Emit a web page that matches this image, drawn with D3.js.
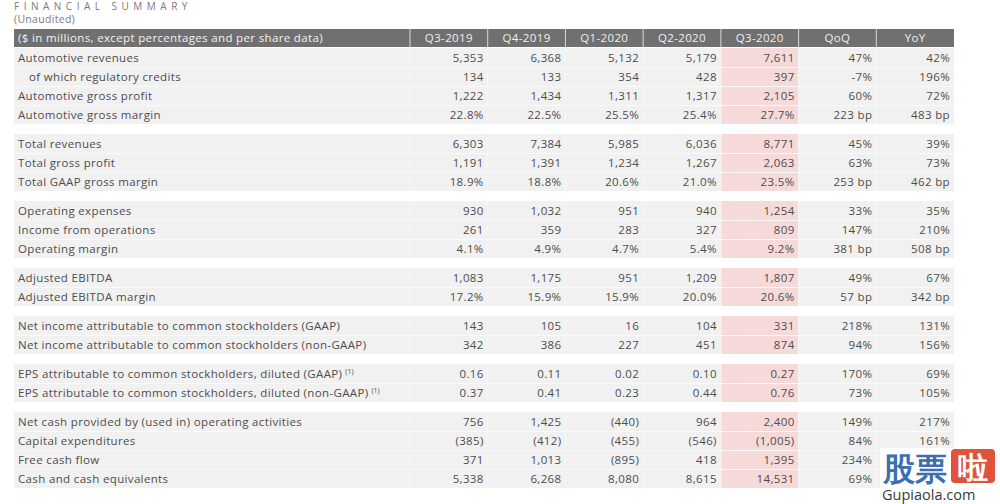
<!DOCTYPE html>
<html>
<head>
<meta charset="utf-8">
<script src="https://cdn.jsdelivr.net/npm/d3@7"></script>
<style>
  body { margin: 0; background: #fff; }
  svg text { font-family: "Open Sans", "DejaVu Sans", sans-serif; }
</style>
</head>
<body>
<div id="chart"></div>
<script>
// row labels, grouped like the report
const rowLabels = [
  "Automotive revenues", "of which regulatory credits", "Automotive gross profit", "Automotive gross margin",
  "Total revenues", "Total gross profit", "Total GAAP gross margin",
  "Operating expenses", "Income from operations", "Operating margin",
  "Adjusted EBITDA", "Adjusted EBITDA margin",
  "Net income attributable to common stockholders (GAAP)", "Net income attributable to common stockholders (non-GAAP)",
  "EPS attributable to common stockholders, diluted (GAAP)", "EPS attributable to common stockholders, diluted (non-GAAP)",
  "Net cash provided by (used in) operating activities", "Capital expenditures", "Free cash flow", "Cash and cash equivalents"
];
const rowGroups = [0,0,0,0, 1,1,1, 2,2,2, 3,3, 4,4, 5,5, 6,6,6,6];
const indented = [1];
const footnoted = [14, 15];

const columns = ["Q3-2019", "Q4-2019", "Q1-2020", "Q2-2020", "Q3-2020", "QoQ", "YoY"];
const highlightColumn = "Q3-2020";

const q3_2019 = ["5,353","134","1,222","22.8%","6,303","1,191","18.9%","930","261","4.1%","1,083","17.2%","143","342","0.16","0.37","756","(385)","371","5,338"];
const q4_2019 = ["6,368","133","1,434","22.5%","7,384","1,391","18.8%","1,032","359","4.9%","1,175","15.9%","105","386","0.11","0.41","1,425","(412)","1,013","6,268"];
const q1_2020 = ["5,132","354","1,311","25.5%","5,985","1,234","20.6%","951","283","4.7%","951","15.9%","16","227","0.02","0.23","(440)","(455)","(895)","8,080"];
const q2_2020 = ["5,179","428","1,317","25.4%","6,036","1,267","21.0%","940","327","5.4%","1,209","20.0%","104","451","0.10","0.44","964","(546)","418","8,615"];
const q3_2020 = ["7,611","397","2,105","27.7%","8,771","2,063","23.5%","1,254","809","9.2%","1,807","20.6%","331","874","0.27","0.76","2,400","(1,005)","1,395","14,531"];
const qoq     = ["47%","-7%","60%","223 bp","45%","63%","253 bp","33%","147%","381 bp","49%","57 bp","218%","94%","170%","73%","149%","84%","234%","69%"];
const yoy     = ["42%","196%","72%","483 bp","39%","73%","462 bp","35%","210%","508 bp","67%","342 bp","131%","156%","69%","105%","217%","161%","276%","172%"];
const columnValues = [q3_2019, q4_2019, q1_2020, q2_2020, q3_2020, qoq, yoy];

const width = 1000, height = 504;
const left = 14, labelRight = 410, right = 954;
const headerTop = 29, headerH = 18;
const rowH = 19, groupGap = 10;
const bodyTop = headerTop + headerH + 1;

const svg = d3.select("#chart").append("svg")
  .attr("width", width)
  .attr("height", height);

const x = d3.scaleBand().domain(columns).range([labelRight, right]).padding(0);
const yRow = d3.scaleLinear().domain([0, 1]).range([bodyTop, bodyTop + rowH]);
const y = i => yRow(i) + rowGroups[i] * groupGap;

const textColor = "#4d4d4d";
const fs = 11.5, ls = 0.35;

// title
svg.append("text")
  .attr("x", 14).attr("y", 10)
  .attr("font-size", 10).attr("letter-spacing", 4.5)
  .attr("fill", "#7a7a7a")
  .text("FINANCIAL SUMMARY");
svg.append("text")
  .attr("x", 14).attr("y", 23)
  .attr("font-size", 10.5).attr("letter-spacing", 0.3)
  .attr("fill", "#7a7a7a")
  .text("(Unaudited)");

// header bar
svg.append("rect")
  .attr("x", left).attr("y", headerTop)
  .attr("width", right - left).attr("height", headerH)
  .attr("fill", "#707070");
svg.append("text")
  .attr("x", 18).attr("y", headerTop + 13)
  .attr("font-size", fs).attr("letter-spacing", ls).attr("fill", "#f2f2f2")
  .text("($ in millions, except percentages and per share data)");
svg.selectAll(".col-head")
  .data(columns)
  .enter().append("text")
  .attr("class", "col-head")
  .attr("x", d => x(d) + x.bandwidth() / 2)
  .attr("y", headerTop + 13)
  .attr("text-anchor", "middle")
  .attr("font-size", fs).attr("letter-spacing", ls).attr("fill", "#efefef")
  .text(d => d);
svg.selectAll(".col-sep")
  .data(columns)
  .enter().append("line")
  .attr("x1", d => x(d)).attr("x2", d => x(d))
  .attr("y1", headerTop).attr("y2", headerTop + headerH)
  .attr("stroke", "#d8d8d8").attr("stroke-width", 1);

// row backgrounds
svg.selectAll(".row-bg")
  .data(rowLabels)
  .enter().append("rect")
  .attr("class", "row-bg")
  .attr("x", left).attr("y", (d, i) => y(i))
  .attr("width", right - left).attr("height", rowH)
  .attr("fill", "#f1f1f1");

// highlighted column
svg.selectAll(".hl")
  .data(rowLabels)
  .enter().append("rect")
  .attr("x", x(highlightColumn)).attr("y", (d, i) => y(i))
  .attr("width", x.bandwidth()).attr("height", rowH)
  .attr("fill", "#f6dada");

// thin separators between rows of the same group
svg.selectAll(".row-sep")
  .data(rowLabels.slice(1).map((d, k) => k + 1).filter(i => rowGroups[i] === rowGroups[i - 1]))
  .enter().append("line")
  .attr("x1", left).attr("x2", right)
  .attr("y1", i => y(i) + 0.5).attr("y2", i => y(i) + 0.5)
  .attr("stroke", "#fafafa").attr("stroke-width", 1);

// faint column separators in the body
const rowIdx = d3.range(rowLabels.length);
columns.forEach(c => {
  svg.selectAll(null)
    .data(rowIdx)
    .enter().append("line")
    .attr("x1", x(c)).attr("x2", x(c))
    .attr("y1", i => y(i)).attr("y2", i => y(i) + rowH)
    .attr("stroke", "#f7f7f7").attr("stroke-width", 1);
});

// row labels
const labels = svg.selectAll(".row-label")
  .data(rowLabels)
  .enter().append("text")
  .attr("class", "row-label")
  .attr("x", (d, i) => indented.includes(i) ? 29 : 18)
  .attr("y", (d, i) => y(i) + 13.5)
  .attr("font-size", fs).attr("letter-spacing", ls).attr("fill", textColor)
  .text(d => d);
labels.filter((d, i) => footnoted.includes(i))
  .append("tspan")
  .attr("dx", 3).attr("dy", -4)
  .attr("font-size", 7).attr("letter-spacing", 0)
  .text("(1)");

// values
columns.forEach((c, ci) => {
  svg.selectAll(null)
    .data(columnValues[ci])
    .enter().append("text")
    .attr("x", x(c) + x.bandwidth() - 4)
    .attr("y", (d, i) => y(i) + 13.5)
    .attr("text-anchor", "end")
    .attr("font-size", fs).attr("letter-spacing", ls).attr("fill", textColor)
    .text(d => d);
});

// site watermark in the bottom right corner (opaque, hides the cells below it)
const wm = svg.append("g");
wm.append("rect")
  .attr("x", 880).attr("y", 448)
  .attr("width", 120).attr("height", 56)
  .attr("fill", "#ffffff");
wm.append("text")
  .attr("x", 883).attr("y", 480)
  .attr("font-family", "Noto Sans CJK SC").attr("font-weight", 700)
  .attr("font-size", 32).attr("fill", "#3c6fb0")
  .text("股票");
wm.append("rect")
  .attr("x", 951).attr("y", 449)
  .attr("width", 44).attr("height", 34).attr("rx", 4)
  .attr("fill", "#e0533b");
wm.append("text")
  .attr("x", 973).attr("y", 478)
  .attr("text-anchor", "middle")
  .attr("font-family", "Noto Sans CJK SC").attr("font-weight", 700)
  .attr("font-size", 30).attr("fill", "#ffffff")
  .text("啦");
wm.append("text")
  .attr("x", 882).attr("y", 500)
  .attr("font-family", "DejaVu Serif, Liberation Serif, serif")
  .attr("font-size", 14.5).attr("fill", "#3a3a3a")
  .text("Gupiaola.com");
</script>
</body>
</html>
